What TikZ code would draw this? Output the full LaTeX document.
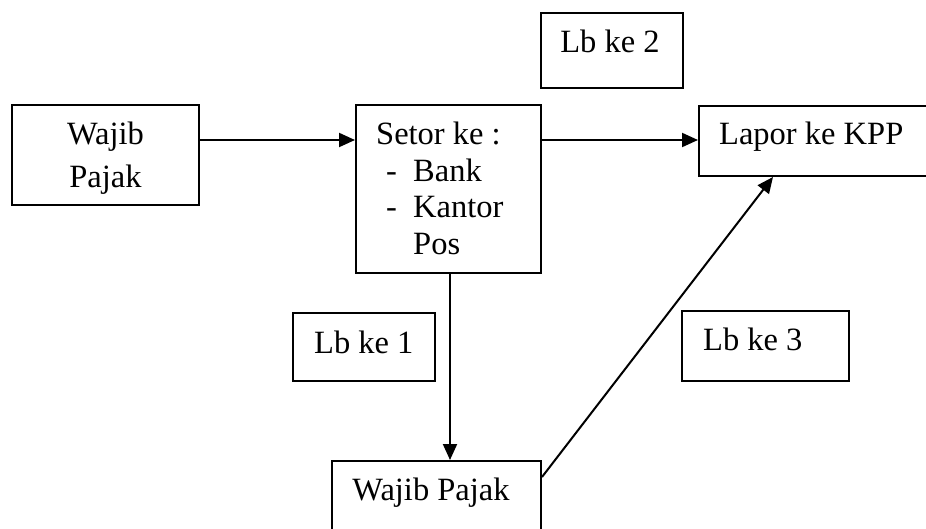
\documentclass[tikz,border=0pt]{standalone}
\usepackage{fontspec}
\setmainfont{Liberation Serif}
\usetikzlibrary{arrows.meta}
\begin{document}
\begin{tikzpicture}[x=1pt,y=-1pt,
  box/.style={draw,line width=2pt,inner sep=0pt},
  txt/.style={inner sep=0pt,anchor=base west,font=\fontsize{32.5}{39}\selectfont},
  ctxt/.style={inner sep=0pt,anchor=base,font=\fontsize{32.5}{39}\selectfont},
  arr/.style={line width=2pt,-{Triangle[length=16pt,width=14pt]}}]
\useasboundingbox (0,0) rectangle (926,529);
\clip (0,0) rectangle (926,529);
% boxes
\node[box,minimum width=187pt,minimum height=100pt] (wp1) at (105.5,155) {};
\node[box,minimum width=185pt,minimum height=168pt] (setor) at (448.5,189) {};
\node[box,minimum width=142pt,minimum height=75pt] (lb2) at (612,50.5) {};
\node[box,minimum width=231pt,minimum height=70pt] (lapor) at (814.5,141) {};
\node[box,minimum width=142pt,minimum height=68pt] (lb1) at (364,347) {};
\node[box,minimum width=167pt,minimum height=70pt] (lb3) at (765.5,346) {};
\node[box,minimum width=209pt,minimum height=79pt] (wp2) at (436.5,500.5) {};
% texts
\node[ctxt] (t1) at (105.5,145) {Wajib};
\node[ctxt] (t2) at (105.5,188) {Pajak};
\node[txt] (t3) at (376,145) {Setor ke :};
\node[txt] (t4) at (386,182) {-};
\node[txt] (t5) at (413,182) {Bank};
\node[txt] (t6) at (386,218) {-};
\node[txt] (t7) at (413,218) {Kantor};
\node[txt] (t8) at (413,255) {Pos};
\node[ctxt] (t9) at (610,53) {Lb ke 2};
\node[txt] (t10) at (719,145) {Lapor ke KPP};
\node[txt] (t11) at (314,353) {Lb ke 1};
\node[txt] (t12) at (703,350) {Lb ke 3};
\node[ctxt] (t13) at (431,500) {Wajib Pajak};
% connectors
\draw[arr] (wp1.east |- 0,140) -- (setor.west |- 0,140);
\draw[arr] (setor.east |- 0,140) -- (lapor.west |- 0,140);
\draw[arr] (setor.south -| 450,0) -- (wp2.north -| 450,0);
\draw[arr] (wp2.east |- 0,477) -- (lapor.south -| 773,0);
\end{tikzpicture}
\end{document}
